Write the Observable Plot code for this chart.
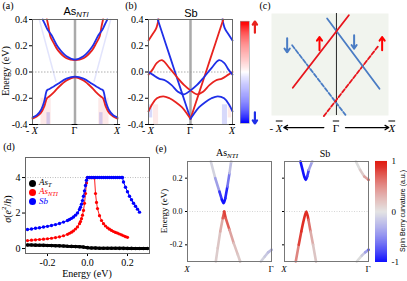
<!DOCTYPE html>
<html><head><meta charset="utf-8">
<script src="https://cdn.jsdelivr.net/npm/d3@7"></script>
<script src="https://cdn.jsdelivr.net/npm/@observablehq/plot@0.6"></script>
<style>
html,body{margin:0;padding:0;background:#fff;}
body{position:relative;width:407px;height:281px;overflow:hidden;}
svg{display:block;}
sub{font-size:70%;vertical-align:-0.25em;font-style:italic;}
.ov{text-decoration:overline;}
</style></head><body>
<script>
// ---------------- DATA ----------------
// shared tick labels
const kTicks = [-1, 0, 1];
const kTickLabels = ["- <i class='ov'>X</i>", "<span class='ov'>\u0393</span>", "<i class='ov'>X</i>"];
const eTicks = [-0.4, -0.2, 0, 0.2, 0.4];

// (a) As_NTI surface bands
const aCbRedK  = [-0.66,-0.62,-0.58,-0.5,-0.4,-0.2,0,0.2,0.4,0.5,0.58,0.62,0.66];
const aCbRedE  = [0.4,0.34,0.27,0.22,0.165,0.105,0.09,0.105,0.165,0.22,0.27,0.34,0.4];
const aCbBlueK = [-0.76,-0.7,-0.64,-0.55,-0.4,-0.2,0,0.2,0.4,0.55,0.64,0.7,0.76];
const aCbBlueE = [0.4,0.36,0.32,0.28,0.19,0.12,0.095,0.12,0.19,0.28,0.32,0.36,0.4];
const aVbK     = [-1,-0.9,-0.8,-0.72,-0.66,-0.6,-0.5,-0.4,-0.2,0,0.2,0.4,0.5,0.6,0.66,0.72,0.8,0.9,1];
const aVbRedE  = [-0.355,-0.34,-0.31,-0.26,-0.2,-0.185,-0.155,-0.12,-0.065,-0.04,-0.065,-0.12,-0.155,-0.185,-0.2,-0.26,-0.31,-0.34,-0.355];
const aVbBlueE = [-0.345,-0.33,-0.29,-0.22,-0.14,-0.13,-0.11,-0.09,-0.05,-0.035,-0.05,-0.09,-0.11,-0.13,-0.14,-0.22,-0.29,-0.33,-0.345];
const aBulkLeftK = [-0.84,-0.45], aBulkRightK = [0.84,0.45], aBulkE = [0.4,-0.07];
const aShadeRedK1 = [-0.8,0.56], aShadeRedK2 = [-0.56,0.8], aShadeRedE1 = [-0.4,-0.4], aShadeRedE2 = [-0.2,-0.2];
const aShadeBlueK1 = [-0.66,0.58], aShadeBlueK2 = [-0.58,0.66], aShadeBlueE1 = [-0.4,-0.4], aShadeBlueE2 = [-0.31,-0.31];

// (b) Sb surface bands
const bRedEdgeK = [-1,-0.9,-0.82,-0.76], bBlueEdgeK = [1,0.9,0.82,0.76], bEdgeE = [0.24,0.29,0.33,0.4];
const bBlueOuterK = [-0.78,-0.6,-0.4,-0.2,0], bRedOuterK = [0.78,0.6,0.4,0.2,0], bOuterE = [0.4,0.225,0.031,-0.163,-0.357];
const bRedInnerK  = [-1,-0.9,-0.8,-0.68,-0.5,-0.32,-0.15,0,0.15,0.3,0.45,0.6,0.75,0.9,1];
const bRedInnerE  = [-0.02,0.02,0.07,0.09,0.03,-0.04,-0.1,-0.14,-0.17,-0.15,-0.1,-0.065,-0.05,-0.02,0.0];
const bBlueInnerK = [-1,-0.9,-0.75,-0.6,-0.45,-0.3,-0.15,0,0.15,0.32,0.5,0.68,0.8,0.9,1];
const bBlueInnerE = [0.0,-0.02,-0.05,-0.065,-0.1,-0.15,-0.17,-0.14,-0.1,-0.04,0.03,0.09,0.07,0.02,-0.02];
const bRedLowK  = [-1,-0.92,-0.8,-0.65,-0.5,-0.35,-0.2,-0.08,0];
const bBlueLowK = [1,0.92,0.8,0.65,0.5,0.35,0.2,0.08,0];
const bLowE     = [-0.3,-0.25,-0.2,-0.185,-0.2,-0.23,-0.27,-0.32,-0.357];
const bShadeRedK1 = [-0.88,0.9], bShadeRedK2 = [-0.76,0.98], bShadeRedE1 = [-0.4,-0.35], bShadeRedE2 = [-0.25,-0.25];
const bShadeBlueK1 = [-0.98,0.76], bShadeBlueK2 = [-0.9,0.88], bShadeBlueE1 = [-0.35,-0.4], bShadeBlueE2 = [-0.25,-0.25];

// (c) schematic Rashba-like crossing
const cRedSolidK = [-0.728,0.206], cRedSolidE = [-0.388,0.817];
const cBlueSolidK = [-0.156,0.717], cBlueSolidE = [0.761,-0.406];
const cBlueDashK = [-0.739,0.15], cBlueDashE = [0.317,-0.84];
const cRedDashK = [-0.211,0.706], cRedDashE = [-0.86,0.317];
const cSpinK = [-0.822,-0.283,0.294,0.761];
const cSpinE1 = [0.433,0.233,0.483,0.233];
const cSpinE2 = [0.2,0.455,0.26,0.455];
const cSpin = ["down","up","down","up"];
const cAxisK1 = [-0.211,0.15], cAxisK2 = [-0.878,0.872], cAxisE = -1.05;
const cLabelK = [-1.0,0,0.93];

// (d) spin Hall conductivity vs energy
const dAsTX = [-0.3,-0.28,-0.26,-0.24,-0.22,-0.2,-0.18,-0.16,-0.14,-0.12,-0.1,-0.08,-0.06,-0.04,-0.02,0,0.02,0.04,0.06,0.08,0.1,0.12,0.14,0.16,0.18,0.2,0.22,0.24,0.26,0.28,0.3];
const dAsTY = [0.2,0.195,0.19,0.185,0.18,0.17,0.165,0.16,0.15,0.145,0.13,0.12,0.11,0.1,0.08,0.05,0.03,0.025,0.02,0.02,0.018,0.015,0.012,0.01,0.01,0.008,0.006,0.005,0.004,0.002,0.0];
const dAsNX = [-0.3,-0.28,-0.26,-0.24,-0.22,-0.2,-0.18,-0.16,-0.14,-0.12,-0.1,-0.09,-0.08,-0.07,-0.06,-0.05,-0.04,-0.035,-0.03,-0.025,-0.02,-0.015,-0.01,-0.005,0,0.005,0.01,0.015,0.02,0.025,0.03,0.035,0.04,0.045,0.05,0.06,0.07,0.08,0.09,0.1,0.11,0.12,0.13,0.14,0.15,0.16,0.17,0.18,0.19,0.2];
const dAsNY = [0.45,0.47,0.49,0.51,0.53,0.55,0.58,0.62,0.66,0.72,0.8,0.86,0.92,1.0,1.1,1.22,1.4,1.52,1.68,1.88,2.15,2.55,3.1,3.7,4,4,4,4,4,4,4,4,3.1,2.6,2.25,1.85,1.58,1.4,1.27,1.17,1.09,1.02,0.96,0.91,0.87,0.82,0.77,0.72,0.67,0.63];
const dSbX = [-0.3,-0.28,-0.26,-0.24,-0.22,-0.2,-0.18,-0.16,-0.14,-0.12,-0.1,-0.09,-0.08,-0.07,-0.06,-0.05,-0.04,-0.035,-0.03,-0.025,-0.02,-0.015,-0.01,-0.005,0,0.01,0.02,0.03,0.04,0.05,0.06,0.07,0.08,0.09,0.1,0.11,0.12,0.13,0.14,0.15,0.16,0.17,0.175,0.18,0.19,0.2,0.21,0.22,0.23,0.24,0.25,0.26];
const dSbY = [1.07,1.1,1.14,1.17,1.21,1.25,1.3,1.35,1.41,1.49,1.58,1.64,1.7,1.78,1.88,2.0,2.2,2.33,2.5,2.7,2.95,3.25,3.55,3.85,4,4,4,4,4,4,4,4,4,4,4,4,4,4,4,4,4,4,4,3.75,3.45,3.2,2.95,2.75,2.55,2.38,2.22,2.05];

// (e) spin Berry curvature resolved bands (x: 0 = X, 1 = Γ)
const eLCbX = [0.278,0.33,0.38,0.41,0.43,0.45,0.475,0.5,0.52];
const eLCbE = [0.3,0.2,0.12,0.07,0.05,0.08,0.15,0.23,0.3];
const eLCbC = [-0.05,-0.3,-0.8,-1,-1,-0.9,-0.5,-0.15,0];
const eLVbX = [0.337,0.36,0.39,0.42,0.437,0.455,0.5,0.55,0.6,0.627];
const eLVbE = [-0.3,-0.22,-0.12,-0.04,0,-0.04,-0.11,-0.19,-0.26,-0.3];
const eLVbC = [0.08,0.12,0.25,0.65,0.8,0.65,0.3,0.15,0.1,0.08];
const eLLowX = [0.873,0.92,0.96,1.0], eLLowE = [-0.3,-0.27,-0.245,-0.23], eLLowC = [-0.05,-0.1,-0.15,-0.2];
const eRCbX = [0.19,0.215,0.235,0.253,0.27,0.29,0.33];
const eRCbE = [0.3,0.25,0.21,0.19,0.21,0.25,0.3];
const eRCbC = [-1,-1,-1,-1,-0.8,-0.3,-0.05];
const eRVbX = [0.134,0.17,0.2,0.23,0.26,0.285,0.31,0.34,0.375];
const eRVbE = [-0.3,-0.2,-0.12,-0.05,0,-0.05,-0.12,-0.2,-0.3];
const eRVbC = [0.45,0.8,0.9,0.9,0.9,0.55,0.25,0.12,0.08];
const eRTopX = [0.85,0.9,0.95,1.0], eRTopE = [0.3,0.25,0.21,0.19], eRTopC = [0,0.1,0.3,0.6];
const eRLowX = [0.86,0.92,0.96,1.0], eRLowE = [-0.3,-0.265,-0.245,-0.23], eRLowC = [0,-0.1,-0.3,-0.7];
const eXTicks = [0, 1], eXTickLabels = ["<i>X</i>", "\u0393"];
const eYTicks = [-0.2, 0, 0.2];
const cbTicks = [-1, 0, 1];

// ---------------- HELPERS ----------------
const serif = '"Liberation Serif","Times New Roman",serif';
const sans = '"Liberation Sans",Arial,sans-serif';
const RED = "#e8231f", BLUE = "#1f2fe8";
const pts = (ks, es, cs, band) => ks.map((k, i) => ({k, E: Array.isArray(es) ? es[i] : es, c: cs ? cs[i] : 0, band: band || 0}));
const rects = (k1, k2, e1, e2) => k1.map((_, i) => ({k1: k1[i], k2: k2[i], e1: e1[i], e2: e2[i]}));
function put(node, left, top) {
  const d = document.createElement("div");
  d.style.cssText = `position:absolute;left:${left}px;top:${top}px;`;
  d.appendChild(node); document.body.appendChild(d);
  return node;
}
function txt(html, x, y, o = {}) {
  const d = document.createElement("div");
  d.innerHTML = html;
  const tr = o.anchor === "start" ? "translate(0,-50%)" : "translate(-50%,-50%)";
  d.style.cssText = `position:absolute;left:${x}px;top:${y}px;white-space:nowrap;line-height:1;font-family:${o.family || serif};font-size:${o.size || 10}px;color:${o.color || "#000"};transform:${tr}${o.rotate ? " rotate(-90deg)" : ""};${o.italic ? "font-style:italic;" : ""}`;
  document.body.appendChild(d);
}
// place HTML tick labels at the positions the plot's own x scale gives
function tickLabels(plot, left, top, ticks, labels, y, size) {
  const sx = plot.scale("x");
  ticks.forEach((t, i) => txt(labels[i], left + sx.apply(t), y, {size}));
}
const baseStyle = (fs, fam) => ({fontFamily: fam || serif, fontSize: fs + "px", background: "transparent", overflow: "visible", color: "#000"});

// ---------------- (a) ----------------
function bandMarks(lines, shadesR, shadesB, faint) {
  return [
    Plot.rect(shadesR, {x1: "k1", x2: "k2", y1: "e1", y2: "e2", fill: RED, fillOpacity: 0.1}),
    Plot.rect(shadesB, {x1: "k1", x2: "k2", y1: "e1", y2: "e2", fill: BLUE, fillOpacity: 0.18}),
    ...faint.map(f => Plot.line(f.d, {x: "k", y: "E", stroke: f.c, strokeOpacity: 0.13, strokeWidth: 1.5})),
    Plot.ruleX([0], {stroke: "#aaa", strokeWidth: 2.5}),
    Plot.ruleY([0], {stroke: "#999", strokeDasharray: "1.5,1.5", strokeWidth: 0.8}),
    ...lines.map(l => Plot.line(l.d, {x: "k", y: "E", stroke: l.c, strokeWidth: 1.8, curve: "catmull-rom"})),
    Plot.frame({stroke: "#666", strokeWidth: 1})
  ];
}
const kAxis = {domain: [-1, 1], ticks: kTicks, tickFormat: () => "", tickSize: 0, label: null};
const eAxis = {domain: [-0.4, 0.4], ticks: eTicks, tickFormat: d => d.toFixed(1), tickSize: 3, tickPadding: 2, label: null};

const plotA = put(Plot.plot({
  width: 125, height: 140, marginLeft: 32, marginRight: 8, marginTop: 19, marginBottom: 16,
  style: baseStyle(10), x: kAxis, y: eAxis,
  marks: bandMarks([
    {d: pts(aCbRedK, aCbRedE), c: RED}, {d: pts(aCbBlueK, aCbBlueE), c: BLUE},
    {d: pts(aVbK, aVbRedE), c: RED}, {d: pts(aVbK, aVbBlueE), c: BLUE}
  ], rects(aShadeRedK1, aShadeRedK2, aShadeRedE1, aShadeRedE2), rects(aShadeBlueK1, aShadeBlueK2, aShadeBlueE1, aShadeBlueE2),
  [{d: pts(aBulkLeftK, aBulkE), c: BLUE}, {d: pts(aBulkRightK, aBulkE), c: BLUE}])
}), 0, 0);
tickLabels(plotA, 0, 0, kTicks, kTickLabels, 131, 10);

// ---------------- (b) ----------------
const plotB = put(Plot.plot({
  width: 112, height: 140, marginLeft: 23, marginRight: 5, marginTop: 19, marginBottom: 16,
  style: baseStyle(10), x: kAxis, y: eAxis,
  marks: bandMarks([
    {d: pts(bRedEdgeK, bEdgeE), c: RED}, {d: pts(bBlueEdgeK, bEdgeE), c: BLUE},
    {d: pts(bBlueOuterK, bOuterE), c: BLUE}, {d: pts(bRedOuterK, bOuterE), c: RED},
    {d: pts(bRedInnerK, bRedInnerE), c: RED}, {d: pts(bBlueInnerK, bBlueInnerE), c: BLUE},
    {d: pts(bRedLowK, bLowE), c: RED}, {d: pts(bBlueLowK, bLowE), c: BLUE}
  ], rects(bShadeRedK1, bShadeRedK2, bShadeRedE1, bShadeRedE2), rects(bShadeBlueK1, bShadeBlueK2, bShadeBlueE1, bShadeBlueE2), [])
}), 125, 0);
tickLabels(plotB, 125, 0, kTicks, kTickLabels, 131, 10);

// colorbar (b)
const cbSteps = d3.range(-1, 1, 0.02);
put(Plot.plot({
  width: 26, height: 140, marginLeft: 4, marginRight: 13, marginTop: 21, marginBottom: 17,
  style: baseStyle(10),
  x: {domain: [0, 1], axis: null}, y: {domain: [-1, 1], axis: null},
  color: {type: "linear", domain: [-1, 0, 1], range: ["#0000ff", "#ffffff", "#ff0000"]},
  marks: [
    Plot.rect(cbSteps, {x1: 0, x2: 1, y1: d => d, y2: d => d + 0.021, fill: d => d + 0.01}),
    Plot.frame({stroke: "#999", strokeWidth: 0.6}),
    Plot.arrow([{y1: 0.78, y2: 1.0, c: RED}, {y1: -0.78, y2: -1.0, c: BLUE}], {x1: 1.6, x2: 1.6, y1: "y1", y2: "y2", stroke: "c", strokeWidth: 2.2, headLength: 6, headAngle: 70})
  ]
}), 236, 0);

// ---------------- (c) ----------------
const cBlue = "#4a7cc4", cRed = "#e8141c";
const plotC = put(Plot.plot({
  width: 145, height: 140, marginLeft: 9, marginRight: 19, marginTop: 13, marginBottom: 25,
  style: baseStyle(11),
  x: {domain: [-1.083, 0.867], axis: null}, y: {domain: [-0.85, 0.845], axis: null},
  marks: [
    Plot.frame({fill: "#f1f4ee", stroke: null}),
    Plot.ruleX([0], {stroke: "#333", strokeWidth: 1.1}),
    Plot.line(pts(cBlueDashK, cBlueDashE), {x: "k", y: "E", stroke: cBlue, strokeWidth: 1.8, strokeDasharray: "4,2"}),
    Plot.line(pts(cRedDashK, cRedDashE), {x: "k", y: "E", stroke: cRed, strokeWidth: 1.8, strokeDasharray: "4,2"}),
    Plot.line(pts(cBlueSolidK, cBlueSolidE), {x: "k", y: "E", stroke: cBlue, strokeWidth: 1.8}),
    Plot.line(pts(cRedSolidK, cRedSolidE), {x: "k", y: "E", stroke: cRed, strokeWidth: 1.8}),
    Plot.arrow(cSpinK.map((k, i) => ({k, e1: cSpinE1[i], e2: cSpinE2[i], s: cSpin[i]})),
      {x1: "k", x2: "k", y1: "e1", y2: "e2", stroke: d => d.s === "up" ? "#ff0000" : cBlue, strokeWidth: 2, headLength: 5, headAngle: 70}),
    Plot.arrow(cAxisK1.map((k, i) => ({k1: k, k2: cAxisK2[i]})), {x1: "k1", x2: "k2", y1: cAxisE, y2: cAxisE, stroke: "#000", strokeWidth: 1.3, headLength: 5, headAngle: 60})
  ]
}), 262, 0);
{
  const sx = plotC.scale("x"), sy = plotC.scale("y");
  cLabelK.forEach((k, i) => txt(kTickLabels[i], 262 + sx.apply(k), sy.apply(cAxisE) + 1, {size: 11}));
}

// ---------------- (d) ----------------
const dT = dAsTX.map((x, i) => ({x, y: dAsTY[i]}));
const dN = dAsNX.map((x, i) => ({x, y: dAsNY[i]}));
const dS = dSbX.map((x, i) => ({x, y: dSbY[i]}));
put(Plot.plot({
  width: 152, height: 141, marginLeft: 25, marginRight: 3, marginTop: 17, marginBottom: 28,
  style: baseStyle(10),
  x: {domain: [-0.31, 0.31], ticks: [-0.2, 0, 0.2], tickFormat: d => d.toFixed(1), tickSize: 3, tickPadding: 2, label: null},
  y: {domain: [-0.28, 5.13], ticks: [0, 2, 4], tickFormat: d => d.toFixed(0), tickSize: 3, tickPadding: 2, label: null},
  marks: [
    Plot.ruleY([4], {stroke: "#bbb", strokeDasharray: "1,1.5"}),
    Plot.line(dT, {x: "x", y: "y", stroke: "#000", strokeWidth: 3}),
    Plot.dot(dT, {x: "x", y: "y", fill: "#000", r: 1.8}),
    Plot.line(dN, {x: "x", y: "y", stroke: "#f00", strokeWidth: 0.9}),
    Plot.dot(dN, {x: "x", y: "y", fill: "#f00", r: 1.6}),
    Plot.line(dS, {x: "x", y: "y", stroke: "#00f", strokeWidth: 1}),
    Plot.dot(dS, {x: "x", y: "y", fill: "#00f", r: 1.7}),
    Plot.frame({stroke: "#666"})
  ]
}), 0, 140);

// ---------------- (e) ----------------
const berry = {type: "linear", domain: [-1, 0, 1], range: ["#1010ff", "#dcdcdc", "#e01a10"]};
const eY = (labels) => ({domain: [-0.3, 0.3], ticks: eYTicks, tickFormat: labels ? (d => d.toFixed(1)) : (() => ""), tickSize: 2, tickPadding: 3, label: null});
const eX = {domain: [0, 1], ticks: eXTicks, tickFormat: () => "", tickSize: 0, label: null};
const eBand = (d) => Plot.line(d, {x: "k", y: "E", z: "band", stroke: "c", strokeWidth: 2.6, curve: "catmull-rom"});
const eMarks = (bands) => [
  Plot.ruleY([0], {stroke: "#ccc", strokeDasharray: "1,1.5", strokeWidth: 0.8}),
  ...bands.map(eBand),
  Plot.frame({stroke: "#777"})
];
const plotEL = put(Plot.plot({
  width: 125, height: 141, marginLeft: 37, marginRight: 4, marginTop: 21, marginBottom: 20,
  style: baseStyle(8), x: eX, y: eY(true), color: berry,
  marks: eMarks([pts(eLCbX, eLCbE, eLCbC, 1), pts(eLVbX, eLVbE, eLVbC, 2), pts(eLLowX, eLLowE, eLLowC, 3)])
}), 150, 140);
tickLabels(plotEL, 150, 140, eXTicks, eXTickLabels, 269, 9);
const plotER = put(Plot.plot({
  width: 97, height: 141, marginLeft: 9, marginRight: 4, marginTop: 21, marginBottom: 20,
  style: baseStyle(8), x: eX, y: eY(false), color: berry,
  marks: eMarks([pts(eRCbX, eRCbE, eRCbC, 1), pts(eRVbX, eRVbE, eRVbC, 2), pts(eRTopX, eRTopE, eRTopC, 3), pts(eRLowX, eRLowE, eRLowC, 4)])
}), 275, 140);
tickLabels(plotER, 275, 140, eXTicks, eXTickLabels, 269, 9);
// colorbar (e)
put(Plot.plot({
  width: 37, height: 141, marginLeft: 5, marginRight: 20, marginTop: 21, marginBottom: 19,
  style: baseStyle(9),
  x: {domain: [0, 1], axis: null},
  y: {domain: [-1, 1], axis: "right", ticks: cbTicks, tickFormat: d => String(d), tickSize: 0, tickPadding: 4, label: null},
  color: berry,
  marks: [Plot.rect(cbSteps, {x1: 0, x2: 1, y1: d => d, y2: d => d + 0.021, fill: d => d + 0.01})]
}), 370, 140);

// ---------------- TEXT ----------------
txt("(a)", 8, 6, {size: 10});
txt("(b)", 131, 6, {size: 10});
txt("(c)", 265, 6, {size: 10});
txt("(d)", 9, 147, {size: 10});
txt("(e)", 161, 149, {size: 10});
txt("As<sub>NTI</sub>", 76, 12, {size: 11, family: sans});
txt("Sb", 191, 13, {size: 11, family: sans});
txt("Energy (eV)", 6, 71, {size: 10, rotate: true});
txt("<i>σ</i>(<i>e</i><sup style='font-size:70%'>2</sup>/<i>h</i>)", 7, 209, {size: 10, rotate: true});
txt("Energy (eV)", 87, 274, {size: 10});
txt("Energy (eV)", 164, 211, {size: 9, rotate: true});
txt("As<sub>NTI</sub>", 227, 154, {size: 10});
txt("Sb", 325, 154, {size: 10});
txt("Spin Berry curvature (a.u.)", 402, 211, {size: 7, family: sans, rotate: true});
// legend (d)
const legend = [["#000", "As<sub>T</sub>", 183], ["#f00", "As<sub>NTI</sub>", 192], ["#00f", "Sb", 201]];
legend.forEach(([c, h, y]) => {
  const dot = document.createElement("div");
  dot.style.cssText = `position:absolute;left:29px;top:${y - 3.5}px;width:7px;height:7px;border-radius:50%;background:${c}`;
  document.body.appendChild(dot);
  txt(`<i>${h}</i>`, 39, y, {size: 9, color: c, anchor: "start"});
});
</script>
</body></html>
